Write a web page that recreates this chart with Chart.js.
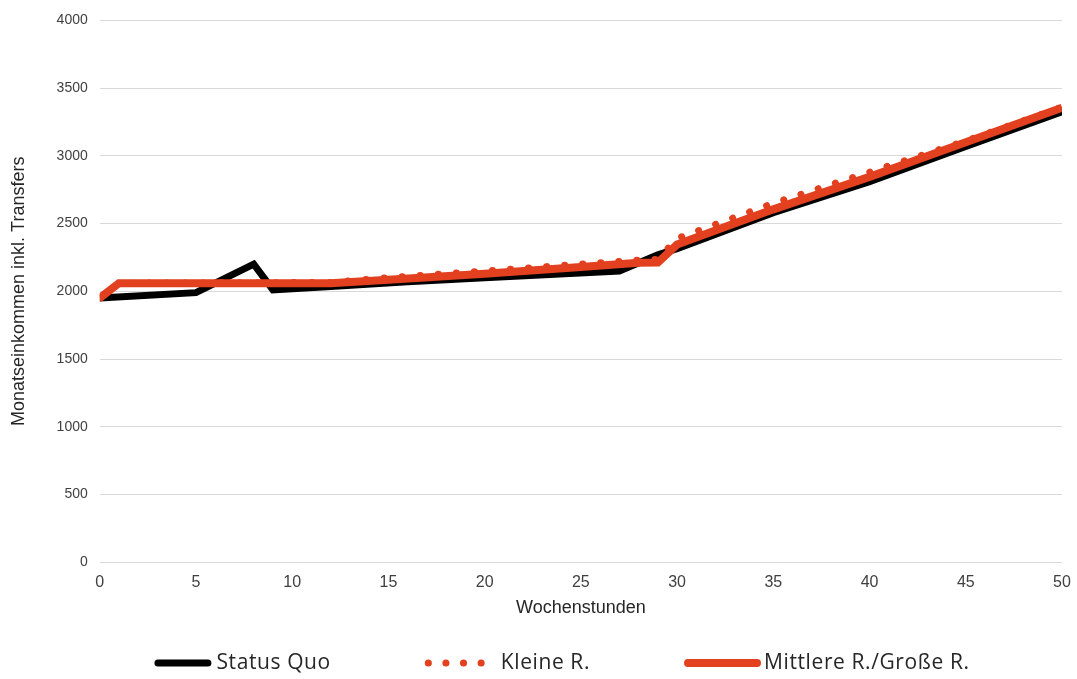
<!DOCTYPE html>
<html>
<head>
<meta charset="utf-8">
<script src="https://cdn.jsdelivr.net/npm/chart.js@4"></script>
<style>
  body { margin: 0; background: #fff; }
  #wrap { width: 1077px; height: 679px; }
</style>
</head>
<body>
<div id="wrap"><canvas id="incomeChart"></canvas></div>
<script>
// Status Quo
const statusQuoHours = [0, 5, 8, 9, 12, 16, 20, 27, 29, 30, 35, 40, 45, 50];
const statusQuoIncome = [1950, 1990, 2200, 2010, 2035, 2070, 2100, 2150, 2270, 2315, 2580, 2810, 3070, 3325];

// Kleine R.
const kleineHours = [0, 1, 12, 15, 20, 25, 28, 29, 30, 35, 40, 45, 50];
const kleineIncome = [1950, 2060, 2065, 2100, 2150, 2200, 2230, 2235, 2390, 2650, 2880, 3110, 3360];

// Mittlere R./Große R.
const mittlereHours = [0, 1, 12, 15, 20, 25, 28, 29, 30, 35, 40, 45, 50];
const mittlereIncome = [1950, 2060, 2060, 2085, 2130, 2180, 2210, 2212, 2345, 2605, 2845, 3100, 3355];

const yTicks = [0, 500, 1000, 1500, 2000, 2500, 3000, 3500, 4000];

function toPoints(xs, ys) {
  return xs.map(function (x, i) {
    return { x: x, y: ys[i] };
  });
}

// legend drawn by hand so the wide gaps between items don't eat vertical space
const bottomLegend = {
  id: "bottomLegend",
  afterDraw: function (chart, args, opts) {
    const ctx = chart.ctx;
    ctx.save();
    ctx.font = opts.font;
    if ("letterSpacing" in ctx) ctx.letterSpacing = opts.letterSpacing;
    ctx.textBaseline = "middle";
    ctx.textAlign = "left";

    const items = chart.data.datasets.map(function (ds, i) {
      return {
        ds: ds,
        sample: opts.sampleWidths[i],
        gap: opts.textGaps[i],
        width: ctx.measureText(ds.label).width,
      };
    });
    let total = 0;
    items.forEach(function (it, i) {
      total += it.sample + it.gap + it.width;
      if (i < items.length - 1) total += opts.itemGap;
    });

    let x = opts.centerX - total / 2;
    const y = opts.y;
    items.forEach(function (it) {
      const lw = it.ds.borderWidth;
      ctx.strokeStyle = it.ds.borderColor;
      ctx.lineWidth = lw;
      ctx.lineCap = "round";
      ctx.setLineDash(it.ds.legendDash || []);
      ctx.beginPath();
      ctx.moveTo(x + lw / 2, y);
      ctx.lineTo(x + it.sample - lw / 2, y);
      ctx.stroke();
      ctx.setLineDash([]);

      ctx.fillStyle = opts.color;
      ctx.fillText(it.ds.label, x + it.sample + it.gap, y);
      x += it.sample + it.gap + it.width + opts.itemGap;
    });
    ctx.restore();
  },
};

const ctx = document.getElementById("incomeChart");
new Chart(ctx, {
  type: "line",
  data: {
    datasets: [
      {
        label: "Status Quo",
        data: toPoints(statusQuoHours, statusQuoIncome),
        borderColor: "#000000",
        backgroundColor: "#000000",
        borderWidth: 7,
        pointRadius: 0,
        tension: 0,
        order: 3,
      },
      {
        label: "Kleine R.",
        data: toPoints(kleineHours, kleineIncome),
        borderColor: "#e2401f",
        backgroundColor: "#e2401f",
        borderWidth: 7,
        borderDash: [0.1, 18],
        borderCapStyle: "round",
        legendDash: [0.1, 17.5],
        pointRadius: 0,
        tension: 0,
        order: 2,
      },
      {
        label: "Mittlere R./Große R.",
        data: toPoints(mittlereHours, mittlereIncome),
        borderColor: "#e2401f",
        backgroundColor: "#e2401f",
        borderWidth: 8,
        pointRadius: 0,
        tension: 0,
        order: 1,
      },
    ],
  },
  plugins: [bottomLegend],
  options: {
    responsive: true,
    maintainAspectRatio: false,
    animation: false,
    layout: {
      padding: { top: 14, left: 8, right: 15, bottom: 60 },
    },
    plugins: {
      legend: { display: false },
      tooltip: { enabled: false },
      bottomLegend: {
        font: "21px 'Open Sans', sans-serif",
        letterSpacing: "0.6px",
        color: "#262626",
        sampleWidths: [57, 60, 77],
        textGaps: [5, 16, 3],
        itemGap: 94,
        centerX: 562,
        y: 663,
      },
    },
    scales: {
      x: {
        type: "linear",
        min: 0,
        max: 50,
        ticks: {
          stepSize: 5,
          color: "#404040",
          padding: 3,
          font: { family: "'Liberation Sans Narrow', 'Liberation Sans', sans-serif", size: 16 },
        },
        grid: { display: false },
        border: { display: false },
        title: {
          display: true,
          text: "Wochenstunden",
          color: "#262626",
          font: { family: "'Liberation Sans Narrow', 'Liberation Sans', sans-serif", size: 18 },
          padding: { top: 2, bottom: 0 },
        },
      },
      y: {
        min: 0,
        max: 4000,
        afterBuildTicks: function (axis) {
          axis.ticks = yTicks.map(function (v) { return { value: v }; });
        },
        ticks: {
          color: "#404040",
          padding: 12,
          font: { family: "'Liberation Sans', sans-serif", size: 14 },
          callback: function (value) {
            return String(value);
          },
        },
        grid: { color: "#d9d9d9", lineWidth: 1, drawTicks: false },
        border: { display: false },
        title: {
          display: true,
          text: "Monatseinkommen inkl. Transfers",
          color: "#262626",
          font: { family: "'Liberation Sans Narrow', 'Liberation Sans', sans-serif", size: 18 },
          padding: { top: 0, bottom: 15 },
        },
      },
    },
  },
});
</script>
</body>
</html>
